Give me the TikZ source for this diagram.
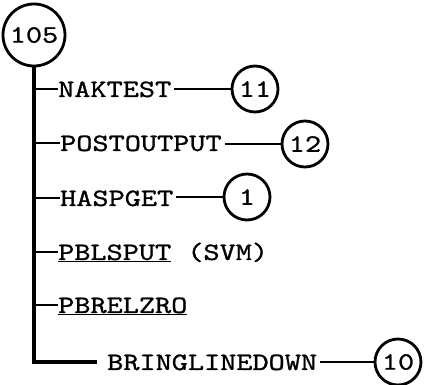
\documentclass[tikz,border=0pt]{standalone}
\usepackage{graphicx}
\usepackage{fontspec}
\newfontfamily\typw{lmmono10-regular.otf}[FakeBold=0.9]
\newcommand{\tw}[1]{\scalebox{1.23}[1]{\fontsize{25}{28}\selectfont\typw #1}}
\tikzset{
  num/.style={draw, circle, line width=2.8pt, inner sep=0pt, minimum size=46pt},
  lbl/.style={inner sep=0pt, anchor=base west},
  trunk/.style={line width=3.4pt},
  branch/.style={line width=2.8pt},
  link/.style={line width=2.4pt},
}
\begin{document}
\begin{tikzpicture}[x=1pt,y=-1pt]
\useasboundingbox (0,0) rectangle (424,385);
\node[num, minimum size=62pt] (c105) at (34,35) {\tw{105}};
\coordinate (b1) at (34,89);
\coordinate (b2) at (34,143);
\coordinate (b3) at (34,198);
\coordinate (b4) at (34,252);
\coordinate (b5) at (34,305);
\coordinate (bend) at (34,362);
\node[lbl] (t1) at (58,97) {\tw{NAKTEST}};
\node[lbl] (t2) at (60,151) {\tw{POSTOUTPUT}};
\node[lbl] (t3) at (60,206) {\tw{HASPGET}};
\node[lbl] (t4) at (58,260) {\tw{\underline{PBLSPUT} (SVM)}};
\node[lbl] (t5) at (58,313) {\tw{\underline{PBRELZRO}}};
\node[lbl] (t6) at (107,370) {\tw{BRINGLINEDOWN}};
\node[num] (c11) at (255,89) {\tw{11}};
\node[num] (c12) at (305,144) {\tw{12}};
\node[num] (c1) at (247,197) {\tw{1}};
\node[num] (c10) at (398,362) {\tw{10}};
\draw[trunk] (c105.south) -- (bend) -- ([xshift=-10pt]t6.west |- bend);
\draw[branch] (b1) -- (b1 -| t1.west);
\draw[branch] (b2) -- (b2 -| t2.west);
\draw[branch] (b3) -- (b3 -| t3.west);
\draw[branch] (b4) -- (b4 -| t4.west);
\draw[branch] (b5) -- (b5 -| t5.west);
\draw[link] ([xshift=3pt]t1.east |- c11.west) -- (c11.west);
\draw[link] ([xshift=3pt]t2.east |- c12.west) -- (c12.west);
\draw[link] ([xshift=3pt]t3.east |- c1.west) -- (c1.west);
\draw[link] ([xshift=3pt]t6.east |- c10.west) -- (c10.west);
\end{tikzpicture}
\end{document}
